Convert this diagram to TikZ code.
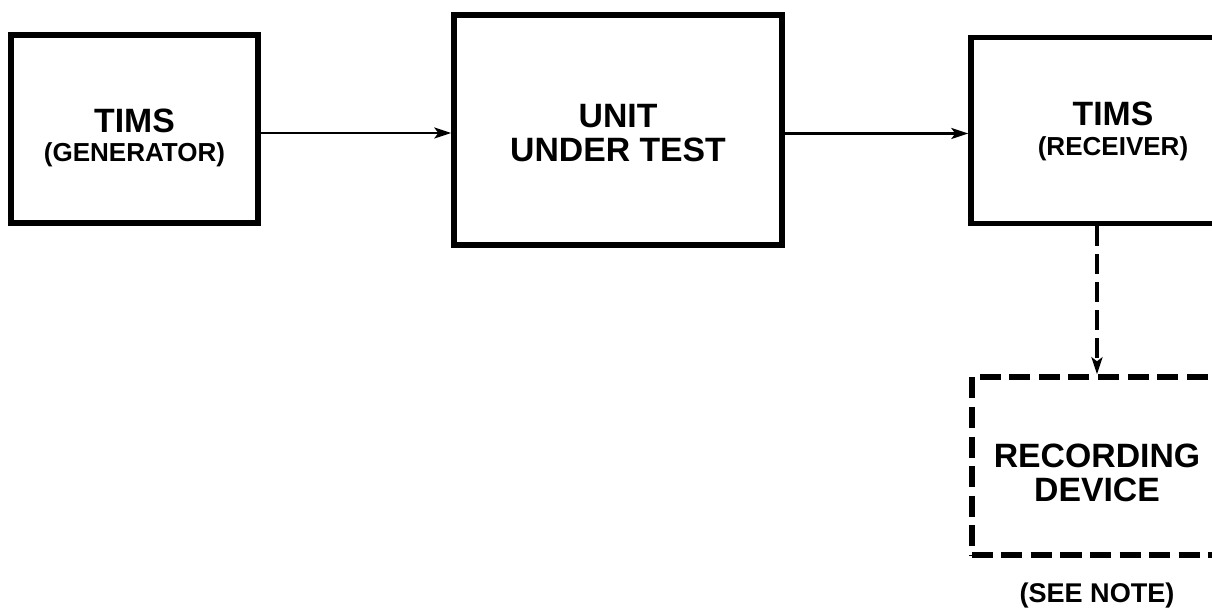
\documentclass[tikz,border=0pt]{standalone}
\usepackage{fontspec}
\setsansfont{Liberation Sans}
\usepackage{tikz}
\usetikzlibrary{arrows.meta,positioning,calc}

\tikzset{
    block/.style={draw, line width=1.5pt, align=center, inner sep=0pt,
        font=\sffamily\bfseries\fontsize{9.6}{8.8}\selectfont},
    optblock/.style={block, dash pattern=on 0.21cm off 0.085cm},
    sig/.style={-{Stealth[length=0.17cm,width=0.11cm,inset=0.04cm]}, line width=0.6pt},
    optsig/.style={sig, line width=0.9pt, dash pattern=on 0.2cm off 0.08cm},
    sub/.style={font=\sffamily\bfseries\fontsize{7.7}{8}\selectfont}
}
\newcommand{\subtxt}[1]{{\fontsize{7.4}{9}\selectfont #1}}
\newcommand{\lowered}[2]{\raisebox{-#1}[\height][\depth]{\shortstack{#2}}}

\begin{document}
\begin{tikzpicture}[x=0.01cm, y=-0.01cm]
    \useasboundingbox (0,0) rectangle (1212,613);
    \clip (0,0) rectangle (1212,613);

    % Blocks
    \node[block, minimum width=2.47cm, minimum height=1.88cm] (gen) at (134.5,129)
        {\lowered{0.09cm}{TIMS\\\subtxt{(GENERATOR)}}};
    \node[block, minimum width=3.28cm, minimum height=2.30cm] (uut) at (618,130)
        {\lowered{0.03cm}{UNIT\\UNDER TEST}};
    \node[block, minimum width=2.84cm, minimum height=1.86cm] (rcv) at (1113,130.5)
        {\lowered{0.01cm}{TIMS\\\subtxt{(RECEIVER)}}};
    \node[optblock, minimum width=2.50cm, minimum height=1.78cm] (rec) at (1097,466)
        {\lowered{0.07cm}{RECORDING\\DEVICE}};

    % Note
    \node[sub, below=0.13cm of rec] (note) {(SEE NOTE)};

    % Signal path
    \draw[sig] ($(gen.east)+(0,4)$) -- ($(uut.west |- gen.east)+(0,4)$);
    \draw[sig] ($(uut.east |- rcv.west)+(0,3)$) -- ($(rcv.west)+(0,3)$);
    \draw[optsig] (rcv.south -| rec.north) -- (rec.north);
\end{tikzpicture}
\end{document}
